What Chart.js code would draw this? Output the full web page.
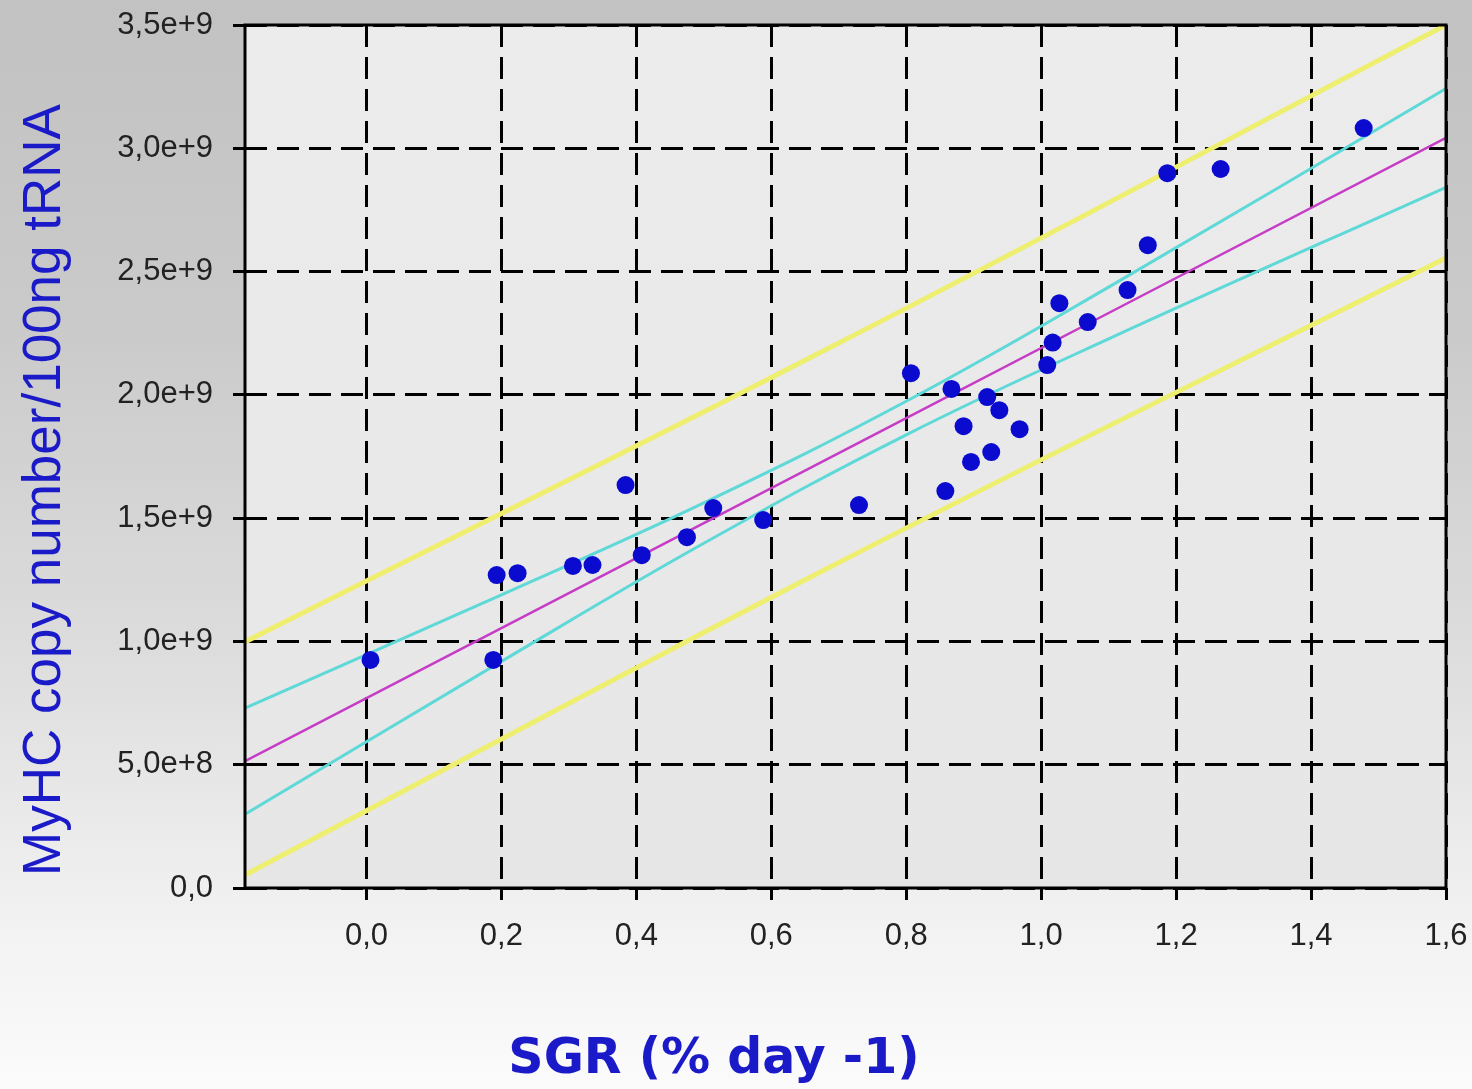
<!DOCTYPE html>
<html>
<head>
<meta charset="utf-8">
<title>MyHC vs SGR</title>
<script src="https://cdn.jsdelivr.net/npm/chart.js@4/dist/chart.umd.min.js"></script>
<style>
    html, body { margin: 0; padding: 0; background: #fafafa; }
    #myhcChart { display: block; }
</style>
</head>
<body>
<canvas id="myhcChart" width="1472" height="1089"></canvas>
<script>
// growth rate (SGR) and MyHC copies for every fish
const sgrValues = [0.006, 0.188, 0.193, 0.224, 0.306, 0.335, 0.384, 0.408, 0.475, 0.514,
    0.588, 0.730, 0.807, 0.858, 0.867, 0.885, 0.896, 0.920, 0.926, 0.938,
    0.968, 1.009, 1.017, 1.027, 1.069, 1.128, 1.158, 1.187, 1.266, 1.478];
const myhcValues = [0.925e9, 0.925e9, 1.269e9, 1.277e9, 1.306e9, 1.310e9, 1.634e9, 1.350e9, 1.423e9, 1.541e9,
    1.492e9, 1.553e9, 2.088e9, 1.610e9, 2.024e9, 1.873e9, 1.728e9, 1.991e9, 1.768e9, 1.938e9,
    1.861e9, 2.121e9, 2.212e9, 2.372e9, 2.295e9, 2.425e9, 2.607e9, 2.899e9, 2.916e9, 3.082e9];

// regression line + 95% confidence band
const fitX = [-0.18, 0.2, 0.5, 0.8, 1.1, 1.6];
const fitLine = [0.514e9, 1.054e9, 1.480e9, 1.906e9, 2.332e9, 3.042e9];
const confUpper = [0.729e9, 1.189e9, 1.562e9, 1.974e9, 2.437e9, 3.242e9];
const confLower = [0.299e9, 0.919e9, 1.398e9, 1.838e9, 2.227e9, 2.842e9];

// 95% prediction band
const predX = [-0.18, 0.7, 1.6];
const predUpper = [0.998e9, 2.210e9, 3.500e9];
const predLower = [0.053e9, 1.320e9, 2.555e9];

// axes
const xMin = -0.18;
const xMax = 1.6;
const xTickValues = [0.0, 0.2, 0.4, 0.6, 0.8, 1.0, 1.2, 1.4, 1.6];
const xTickLabels = ["0,0", "0,2", "0,4", "0,6", "0,8", "1,0", "1,2", "1,4", "1,6"];
const yTickValues = [0, 0.5e9, 1.0e9, 1.5e9, 2.0e9, 2.5e9, 3.0e9, 3.5e9];
const yTickLabels = ["0,0", "5,0e+8", "1,0e+9", "1,5e+9", "2,0e+9", "2,5e+9", "3,0e+9", "3,5e+9"];

const xTitle = "SGR (% day -1)";
const yTitle = "MyHC copy number/100ng tRNA";

function toPoints(xs, ys) {
    return xs.map((x, i) => ({ x: x, y: ys[i] }));
}

function lineDataset(xs, ys, color, width, tension) {
    return {
        type: "scatter",
        data: toPoints(xs, ys),
        showLine: true,
        borderColor: color,
        borderWidth: width,
        pointRadius: 0,
        pointHoverRadius: 0,
        tension: tension,
        fill: false
    };
}

// grey page + lighter plot panel
const backgroundPlugin = {
    id: "backgroundPlugin",
    beforeDraw(chart) {
        const ctx = chart.ctx;
        const area = chart.chartArea;
        ctx.save();
        let g = ctx.createLinearGradient(0, 0, 0, chart.height);
        g.addColorStop(0, "#c2c2c2");
        g.addColorStop(0.3, "#cacaca");
        g.addColorStop(0.6, "#dddddd");
        g.addColorStop(0.85, "#f2f2f2");
        g.addColorStop(1, "#fbfbfb");
        ctx.fillStyle = g;
        ctx.fillRect(0, 0, chart.width, chart.height);

        let p = ctx.createLinearGradient(0, area.top, 0, area.bottom);
        p.addColorStop(0, "#ececec");
        p.addColorStop(1, "#e6e6e6");
        ctx.fillStyle = p;
        ctx.fillRect(area.left, area.top, area.right - area.left, area.bottom - area.top);
        ctx.restore();
    },
    afterDatasetsDraw(chart) {
        // solid frame round the plot
        const ctx = chart.ctx;
        const area = chart.chartArea;
        ctx.save();
        ctx.strokeStyle = "#000";
        ctx.lineWidth = 3;
        ctx.setLineDash([]);
        ctx.strokeRect(area.left, area.top, area.right - area.left, area.bottom - area.top);
        ctx.restore();
    }
};

// axis titles, placed by hand
const titlePlugin = {
    id: "titlePlugin",
    afterDraw(chart) {
        const ctx = chart.ctx;
        ctx.save();
        ctx.fillStyle = "#1a1ac8";
        ctx.textAlign = "center";
        ctx.textBaseline = "alphabetic";
        ctx.font = "bold 49px 'DejaVu Sans'";
        ctx.fillText(xTitle, 714, 1073);

        ctx.translate(60, 490);
        ctx.rotate(-Math.PI / 2);
        ctx.font = "53px 'Liberation Sans'";
        ctx.fillText(yTitle, 0, 0);
        ctx.restore();
    }
};

const tickFont = { family: "'Liberation Sans'", size: 31 };

new Chart(document.getElementById("myhcChart"), {
    type: "scatter",
    data: {
        datasets: [
            {
                data: toPoints(sgrValues, myhcValues),
                backgroundColor: "#0b0bd0",
                borderWidth: 0,
                pointRadius: 9,
                pointHoverRadius: 9
            },
            lineDataset(fitX, fitLine, "#c63cc6", 2.5, 0),
            lineDataset(fitX, confUpper, "#5fd8d8", 3, 0.4),
            lineDataset(fitX, confLower, "#5fd8d8", 3, 0.4),
            lineDataset(predX, predUpper, "#eeee70", 5, 0.4),
            lineDataset(predX, predLower, "#eeee70", 5, 0.4)
        ]
    },
    options: {
        responsive: false,
        devicePixelRatio: 1,
        animation: false,
        layout: { padding: { left: 0, top: 25, right: 26, bottom: 0 } },
        plugins: {
            legend: { display: false },
            tooltip: { enabled: false }
        },
        scales: {
            x: {
                type: "linear",
                min: xMin,
                max: xMax,
                afterBuildTicks: (axis) => {
                    axis.ticks = xTickValues.map(v => ({ value: v }));
                },
                afterFit: (axis) => {
                    axis.height = 201;
                    axis.paddingLeft = 0;
                    axis.paddingRight = 0;
                },
                ticks: {
                    color: "#222",
                    font: tickFont,
                    padding: 18,
                    maxRotation: 0,
                    callback: (value, index) => xTickLabels[index]
                },
                grid: {
                    color: "#000",
                    lineWidth: 3,
                    tickLength: 12,
                    tickColor: "#000",
                    tickWidth: 3
                },
                border: { display: false, dash: [22, 10] }
            },
            y: {
                type: "linear",
                min: 0,
                max: 3.5e9,
                afterBuildTicks: (axis) => {
                    axis.ticks = yTickValues.map(v => ({ value: v }));
                },
                afterFit: (axis) => {
                    axis.width = 245;
                    axis.paddingTop = 0;
                    axis.paddingBottom = 0;
                },
                ticks: {
                    color: "#222",
                    font: tickFont,
                    padding: 20,
                    callback: (value, index) => yTickLabels[index]
                },
                grid: {
                    color: "#000",
                    lineWidth: 3,
                    tickLength: 12,
                    tickColor: "#000",
                    tickWidth: 3
                },
                border: { display: false, dash: [22, 10] }
            }
        }
    },
    plugins: [backgroundPlugin, titlePlugin]
});
</script>
</body>
</html>
